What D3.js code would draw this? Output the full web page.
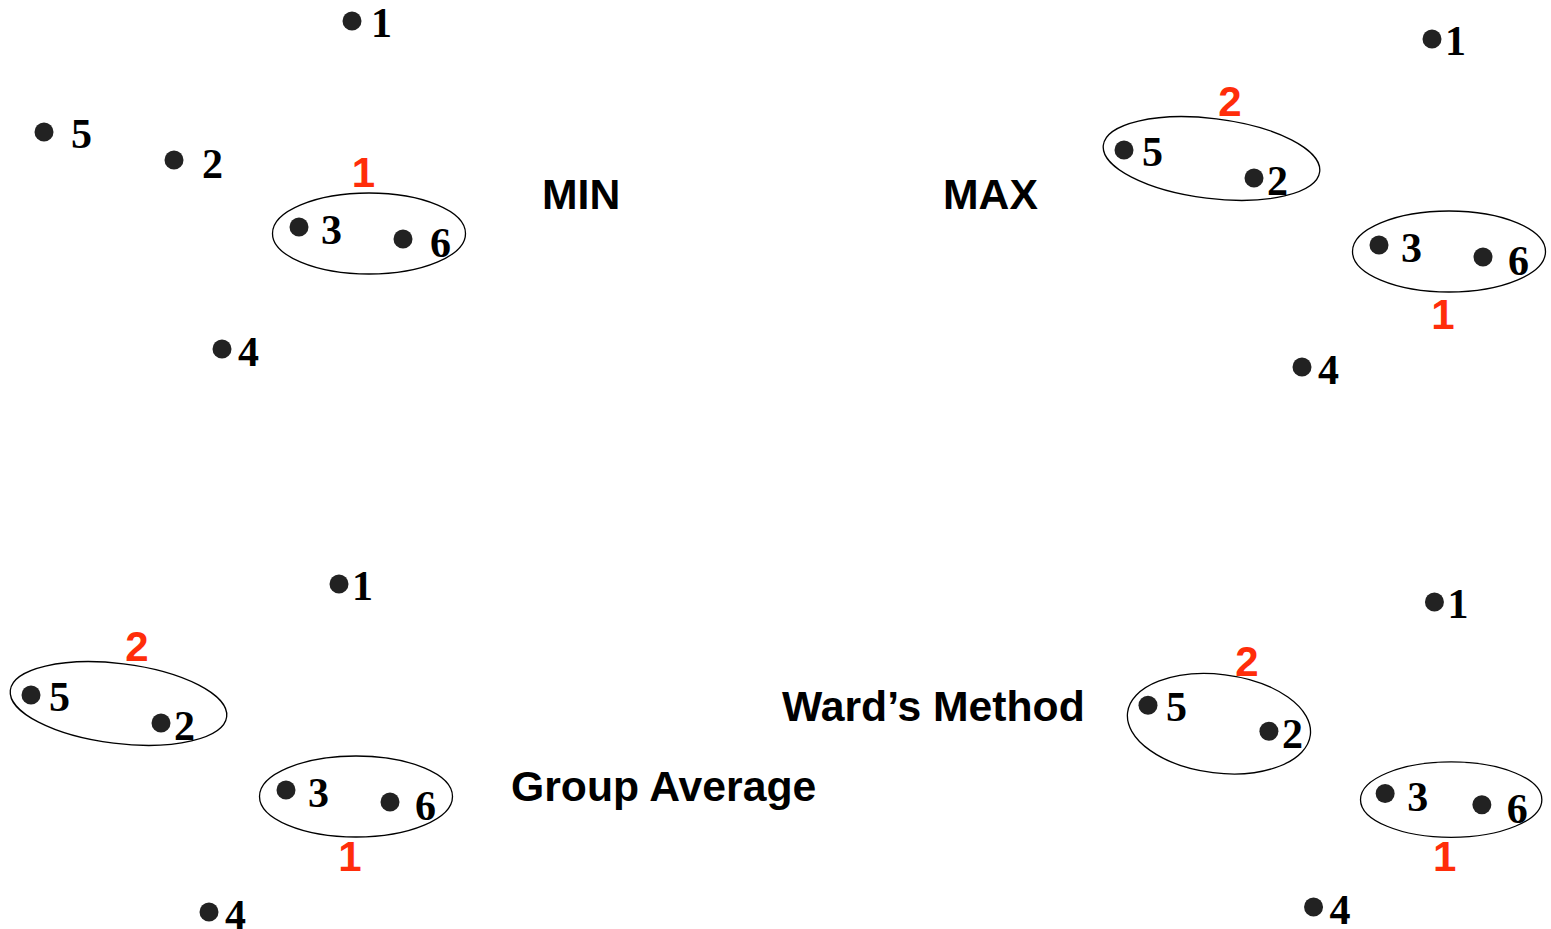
<!DOCTYPE html>
<html>
<head>
<meta charset="utf-8">
<script src="https://cdnjs.cloudflare.com/ajax/libs/d3/7.8.5/d3.min.js"></script>
<style>
  body { margin: 0; background: #fff; }
</style>
</head>
<body>
<div id="chart"></div>
<script>
// the six points (same layout in every panel)
var pointIds = ["1", "2", "3", "4", "5", "6"];
var pointX = [3.08, 1.30, 2.55, 1.78, 0.00, 3.59];
var pointY = [0.00, 1.39, 2.06, 3.28, 1.11, 2.18];

// linkage methods and the clusters each one merged
var methodNames = ["MIN", "MAX", "Group Average", "Ward’s Method"];
var clusterNames = ["1", "2"];
var clusterMembers = [
  [["3", "6"]],
  [["3", "6"], ["5", "2"]],
  [["3", "6"], ["5", "2"]],
  [["3", "6"], ["5", "2"]]
];

var svgWidth = 1551;
var svgHeight = 929;

var svg = d3.select("#chart")
  .append("svg")
  .attr("width", svgWidth)
  .attr("height", svgHeight);

// point label offsets (px from dot centre)
var labelOff = {"1": [13, 16], "2": [13, 17], "3": [22, 17], "4": [16, 17], "5": [18, 16], "6": [25, 18]};
var labelOffMin = {"1": [19, 16], "2": [28, 18], "3": [22, 17], "4": [16, 17], "5": [27, 16], "6": [27, 18]};

// ellipse shape per cluster: centre shift, radii (data units), rotation, red label offset (px)
var ring36 = {dx: 0.18, dy: 0.005, rx: 0.965, ry: 0.405, rot: 0};
var ring52 = {dx: 0.225, dy: -0.055, rx: 1.09, ry: 0.40, rot: 7};

var panels = [
  {x0: 44, y0: 21, k: 1, title: [542, 209], off: labelOffMin,
    rings: [Object.assign({lx: -5.5, ly: -46.5}, ring36)]},
  {x0: 1124, y0: 39, k: 1, title: [943, 209], off: labelOff,
    rings: [Object.assign({lx: -6, ly: 77}, ring36), Object.assign({lx: 18.5, ly: -43}, ring52)]},
  {x0: 31, y0: 584, k: 1, title: [511, 801], off: labelOff,
    rings: [Object.assign({lx: -6, ly: 74.5}, ring36), Object.assign({lx: 18.5, ly: -43}, ring52)]},
  {x0: 1148, y0: 602, k: 0.93, title: [782, 721], off: labelOff,
    rings: [{dx: 0.19, dy: 0.005, rx: 0.975, ry: 0.405, rot: 0, lx: -6.5, ly: 71.5},
            {dx: 0.113, dy: 0.059, rx: 0.99, ry: 0.53, rot: 7, lx: 28, ly: -48}]}
];

var points = pointIds.map(function (id, i) {
  return {id: id, x: pointX[i], y: pointY[i]};
});

panels.forEach(function (p, pi) {
  var x = d3.scaleLinear().domain([0, 4]).range([p.x0, p.x0 + 400 * p.k]);
  var y = d3.scaleLinear().domain([0, 4]).range([p.y0, p.y0 + 400 * p.k]);
  var g = svg.append("g");

  // cluster rings
  clusterMembers[pi].forEach(function (members, ci) {
    var r = p.rings[ci];
    var pts = points.filter(d => members.indexOf(d.id) >= 0);
    var cx = x(d3.mean(pts, d => d.x) + r.dx);
    var cy = y(d3.mean(pts, d => d.y) + r.dy);
    g.append("ellipse")
      .attr("transform", `translate(${cx},${cy}) rotate(${r.rot})`)
      .attr("rx", x(r.rx) - x(0))
      .attr("ry", y(r.ry) - y(0))
      .attr("fill", "none")
      .attr("stroke", "#000")
      .attr("stroke-width", 1.3);
    g.append("text")
      .attr("x", cx + r.lx)
      .attr("y", cy + r.ly)
      .attr("text-anchor", "middle")
      .style("font-family", "Liberation Sans, Arial, sans-serif")
      .style("font-weight", "bold")
      .style("font-size", "42px")
      .style("fill", "#ff2d0a")
      .text(clusterNames[ci]);
  });

  g.selectAll("circle")
    .data(points)
    .enter()
    .append("circle")
    .attr("cx", d => x(d.x))
    .attr("cy", d => y(d.y))
    .attr("r", 9.5)
    .attr("fill", "#222");

  g.selectAll("text.pt")
    .data(points)
    .enter()
    .append("text")
    .attr("class", "pt")
    .attr("x", d => x(d.x) + p.off[d.id][0])
    .attr("y", d => y(d.y) + p.off[d.id][1])
    .style("font-family", "Liberation Serif, Times New Roman, serif")
    .style("font-weight", "bold")
    .style("font-size", "42px")
    .style("fill", "#000")
    .text(d => d.id);

  g.append("text")
    .attr("x", p.title[0])
    .attr("y", p.title[1])
    .style("font-family", "Liberation Sans, Arial, sans-serif")
    .style("font-weight", "bold")
    .style("font-size", "42.7px")
    .style("fill", "#000")
    .text(methodNames[pi]);
});
</script>
</body>
</html>
